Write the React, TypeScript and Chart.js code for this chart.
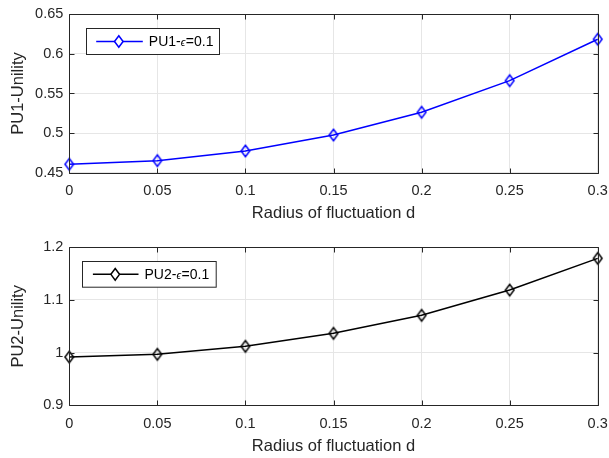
import React, { useEffect, useRef } from "react";
import { Chart, registerables } from "chart.js";

Chart.register(...registerables);

const radius = [0, 0.05, 0.1, 0.15, 0.2, 0.25, 0.3];
const pu1Utility = [0.4606, 0.4652, 0.4774, 0.4976, 0.5263, 0.5662, 0.6185];
const pu2Utility = [0.9917, 0.9968, 1.012, 1.0366, 1.0708, 1.1188, 1.179];

const xTicks = [0, 0.05, 0.1, 0.15, 0.2, 0.25, 0.3];
const xTickLabels = ["0", "0.05", "0.1", "0.15", "0.2", "0.25", "0.3"];
const y1Ticks = [0.45, 0.5, 0.55, 0.6, 0.65];
const y1TickLabels = ["0.45", "0.5", "0.55", "0.6", "0.65"];
const y2Ticks = [0.9, 1.0, 1.1, 1.2];
const y2TickLabels = ["0.9", "1", "1.1", "1.2"];

const FONT = "'Liberation Sans', Arial, Helvetica, sans-serif";
const AXIS_COLOR = "#262626";
const GRID_COLOR = "#e6e6e6";
const TICK_SIZE = 14.5;
const TITLE_SIZE = 16.5;
const LEGEND_SIZE = 14;
const DHW = 4.3; // diamond half width
const DHH = 5.8; // diamond half height

type PanelCfg = {
  values: number[];
  color: string;
  yTicks: number[];
  yTickLabels: string[];
  yTitle: string;
  legendName: string;
  xAxisHeight: number;
  padTop: number;
  xTitlePadBottom: number;
  legend: { boxLeft: number; boxTop: number; boxW: number; boxH: number; lineStart: number; marker: number; lineEnd: number; text: number };
};

function diamondPath(ctx: CanvasRenderingContext2D, x: number, y: number) {
  ctx.beginPath();
  ctx.moveTo(x, y - DHH);
  ctx.lineTo(x + DHW, y);
  ctx.lineTo(x, y + DHH);
  ctx.lineTo(x - DHW, y);
  ctx.closePath();
}

function makeMarker(color: string) {
  const c = document.createElement("canvas");
  c.width = 14;
  c.height = 16;
  const ctx = c.getContext("2d")!;
  ctx.strokeStyle = color;
  ctx.lineWidth = 1.5;
  diamondPath(ctx, 7, 8);
  ctx.stroke();
  return c;
}

const boxPlugin = {
  id: "matlabBox",
  afterDraw(chart: any, _args: any, opts: any) {
    const { ctx, chartArea } = chart;
    const { left, right, top, bottom } = chartArea;
    const al = (v: number) => Math.round(v) + 0.5;
    ctx.save();
    ctx.strokeStyle = AXIS_COLOR;
    ctx.lineWidth = 1;
    ctx.beginPath();
    ctx.rect(al(left), al(top), Math.round(right) - Math.round(left), Math.round(bottom) - Math.round(top));
    ctx.stroke();
    const tl = 5;
    const xs = chart.scales.x;
    const ys = chart.scales.y;
    ctx.beginPath();
    xTicks.forEach((v) => {
      const px = al(xs.getPixelForValue(v));
      ctx.moveTo(px, al(bottom));
      ctx.lineTo(px, al(bottom) - tl);
      ctx.moveTo(px, al(top));
      ctx.lineTo(px, al(top) + tl);
    });
    (opts.yTicks as number[]).forEach((v) => {
      const py = al(ys.getPixelForValue(v));
      ctx.moveTo(al(left), py);
      ctx.lineTo(al(left) + tl, py);
      ctx.moveTo(al(right), py);
      ctx.lineTo(al(right) - tl, py);
    });
    ctx.stroke();

    // legend
    const L = opts.legend;
    const bx = al(left + L.boxLeft);
    const by = al(top + L.boxTop);
    ctx.fillStyle = "#ffffff";
    ctx.fillRect(bx, by, L.boxW, L.boxH);
    ctx.strokeStyle = AXIS_COLOR;
    ctx.strokeRect(bx, by, L.boxW, L.boxH);
    const cy = by + L.boxH / 2;
    ctx.strokeStyle = opts.color;
    ctx.lineWidth = 1.5;
    ctx.beginPath();
    ctx.moveTo(bx + L.lineStart, cy);
    ctx.lineTo(bx + L.lineEnd, cy);
    ctx.stroke();
    const mx = bx + L.marker;
    ctx.fillStyle = "#ffffff";
    diamondPath(ctx, mx, cy);
    ctx.fill();
    ctx.stroke();
    ctx.fillStyle = "#000000";
    ctx.textBaseline = "middle";
    ctx.textAlign = "left";
    let tx = bx + L.text;
    const parts: [string, string][] = [
      [opts.legendName, `${LEGEND_SIZE}px ${FONT}`],
      ["\u03f5", `italic 10.5px ${FONT}`],
      ["=0.1", `${LEGEND_SIZE}px ${FONT}`],
    ];
    parts.forEach(([s, f], i) => {
      ctx.font = f;
      ctx.fillText(s, tx, cy + (i === 1 ? 1.8 : 0.5));
      tx += ctx.measureText(s).width + (i === 1 ? 0.5 : 0);
    });
    ctx.restore();
  },
};

function Panel({ cfg, top, height }: { cfg: PanelCfg; top: number; height: number }) {
  const ref = useRef<HTMLCanvasElement | null>(null);
  useEffect(() => {
    if (!ref.current) return;
    const marker = makeMarker(cfg.color);
    const chart = new Chart(ref.current, {
      type: "line",
      data: {
        datasets: [
          {
            data: radius.map((x, i) => ({ x, y: cfg.values[i] })),
            borderColor: cfg.color,
            borderWidth: 1.5,
            pointStyle: marker as any,
            pointRadius: 6,
            tension: 0,
            clip: false as any,
          },
        ],
      },
      options: {
        responsive: false,
        animation: false,
        devicePixelRatio: 1,
        layout: { padding: { top: cfg.padTop, right: 11.3, left: 0, bottom: 0 } },
        plugins: {
          legend: { display: false },
          tooltip: { enabled: false },
          matlabBox: { yTicks: cfg.yTicks, legend: cfg.legend, color: cfg.color, legendName: cfg.legendName },
        } as any,
        scales: {
          x: {
            type: "linear",
            min: 0,
            max: 0.3,
            afterBuildTicks: (s: any) => {
              s.ticks = xTicks.map((v) => ({ value: v }));
            },
            afterFit: (s: any) => {
              s.height = cfg.xAxisHeight;
              s.paddingLeft = 0;
              s.paddingRight = 0;
            },
            ticks: {
              autoSkip: false,
              maxRotation: 0,
              padding: 10,
              color: AXIS_COLOR,
              font: { family: FONT, size: TICK_SIZE },
              callback: (_v: any, i: number) => xTickLabels[i],
            },
            grid: { color: GRID_COLOR, drawTicks: false },
            border: { display: false },
            title: {
              display: true,
              text: "Radius of fluctuation d",
              color: AXIS_COLOR,
              font: { family: FONT, size: TITLE_SIZE },
              padding: { top: 0, bottom: cfg.xTitlePadBottom },
            },
          },
          y: {
            type: "linear",
            min: cfg.yTicks[0],
            max: cfg.yTicks[cfg.yTicks.length - 1],
            afterBuildTicks: (s: any) => {
              s.ticks = cfg.yTicks.map((v) => ({ value: v }));
            },
            afterFit: (s: any) => {
              s.width = 69.3;
              s.paddingTop = 0;
              s.paddingBottom = 0;
            },
            ticks: {
              autoSkip: false,
              padding: 6,
              color: AXIS_COLOR,
              font: { family: FONT, size: TICK_SIZE },
              callback: (_v: any, i: number) => cfg.yTickLabels[i],
            },
            grid: { color: GRID_COLOR, drawTicks: false },
            border: { display: false },
            title: {
              display: true,
              text: cfg.yTitle,
              color: AXIS_COLOR,
              font: { family: FONT, size: TITLE_SIZE },
              padding: { top: 8.4, bottom: 0 },
            },
          },
        },
      },
      plugins: [boxPlugin],
    });
    return () => chart.destroy();
  }, [cfg]);
  return (
    <canvas
      ref={ref}
      width={609}
      height={height}
      style={{ position: "absolute", left: 0, top, width: 609, height }}
    />
  );
}

const topCfg: PanelCfg = {
  values: pu1Utility,
  color: "#0000ff",
  yTicks: y1Ticks,
  yTickLabels: y1TickLabels,
  yTitle: "PU1-Unility",
  legendName: "PU1-",
  xAxisHeight: 59.3,
  padTop: 14.3,
  xTitlePadBottom: 8.6,
  legend: { boxLeft: 16.7, boxTop: 14, boxW: 133, boxH: 26, lineStart: 9.7, marker: 32.3, lineEnd: 56.3, text: 62.3 },
};

const bottomCfg: PanelCfg = {
  values: pu2Utility,
  color: "#000000",
  yTicks: y2Ticks,
  yTickLabels: y2TickLabels,
  yTitle: "PU2-Unility",
  legendName: "PU2-",
  xAxisHeight: 52.7,
  padTop: 14.3,
  xTitlePadBottom: 2.1,
  legend: { boxLeft: 13, boxTop: 13.7, boxW: 133.7, boxH: 25.7, lineStart: 10.4, marker: 32.7, lineEnd: 56, text: 62 },
};

export default function App() {
  return (
    <div style={{ position: "absolute", left: 0, top: 0, width: 609, height: 458, background: "#ffffff" }}>
      <Panel cfg={topCfg} top={0} height={232} />
      <Panel cfg={bottomCfg} top={233} height={225} />
    </div>
  );
}
